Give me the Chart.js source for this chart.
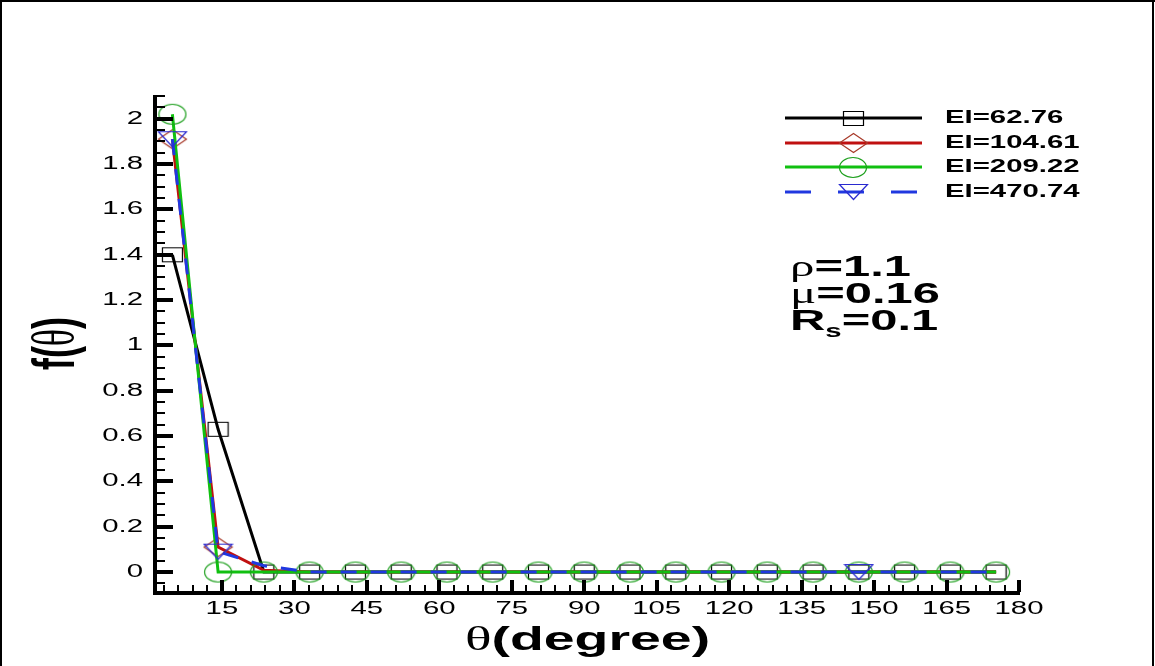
<!DOCTYPE html>
<html>
<head>
<meta charset="utf-8">
<script src="https://cdn.jsdelivr.net/npm/chart.js@4.4.1/dist/chart.umd.min.js"></script>
<style>
  html, body { margin: 0; padding: 0; background: #fff; }
</style>
</head>
<body>
<canvas id="thetaChart" width="1155" height="666"></canvas>
<script>
// angle of each sample, degrees
const theta = [4.74, 14.21, 23.68, 33.16, 42.63, 52.11, 61.58, 71.05, 80.53, 90.0,
  99.47, 108.95, 118.42, 127.89, 137.37, 146.84, 156.32, 165.79, 175.26];

const seriesLabels = ['EI=62.76', 'EI=104.61', 'EI=209.22', 'EI=470.74'];

const fEI62 = [1.40, 0.63, 0.0, 0, 0, 0, 0, 0, 0, 0, 0, 0, 0, 0, 0, 0, 0, 0, 0];
const fEI104 = [1.91, 0.11, 0.008, 0, 0, 0, 0, 0, 0, 0, 0, 0, 0, 0, 0, 0, 0, 0, 0];
const fEI209 = [2.02, 0.0, 0, 0, 0, 0, 0, 0, 0, 0, 0, 0, 0, 0, 0, 0, 0, 0, 0];
const fEI470 = [1.91, 0.09, 0.028, 0, 0, 0, 0, 0, 0, 0, 0, 0, 0, 0, 0, 0, 0, 0, 0];

const xTickValues = [15, 30, 45, 60, 75, 90, 105, 120, 135, 150, 165, 180];
const yTickValues = [0, 0.2, 0.4, 0.6, 0.8, 1, 1.2, 1.4, 1.6, 1.8, 2];

// which samples carry a symbol (the others are hidden in the original)
const diamondAt = [0, 1];
const triangleAt = [0, 1, 15];

const SX = 1.63; // the original figure is stretched horizontally

function makeMarker(kind, w, h, color) {
  const c = document.createElement('canvas');
  c.width = w + 3;
  c.height = h + 3;
  const g = c.getContext('2d');
  const cx = c.width / 2, cy = c.height / 2;
  g.strokeStyle = color;
  g.lineWidth = 1.2;
  g.beginPath();
  if (kind === 'rect') {
    g.rect(cx - w / 2, cy - h / 2, w, h);
  } else if (kind === 'diamond') {
    g.moveTo(cx - w / 2, cy); g.lineTo(cx, cy - h / 2);
    g.lineTo(cx + w / 2, cy); g.lineTo(cx, cy + h / 2); g.closePath();
  } else if (kind === 'ellipse') {
    g.ellipse(cx, cy, w / 2, h / 2, 0, 0, Math.PI * 2);
  } else {
    g.moveTo(cx - w / 2, cy - h / 2); g.lineTo(cx + w / 2, cy - h / 2);
    g.lineTo(cx, cy + h / 2); g.closePath();
  }
  g.stroke();
  return c;
}

const markers = [
  makeMarker('rect', 20, 14, '#000000'),
  makeMarker('diamond', 28, 19, '#a83a2a'),
  makeMarker('ellipse', 27, 20, '#1fa01f'),
  makeMarker('triangle', 28, 15, '#2a2ad0')
];
const lineColors = ['#000000', '#c01010', '#10c010', '#2038e0'];

const toPoints = (vals) => vals.map((v, i) => ({ x: theta[i], y: v }));

function drawStretched(ctx, text, x, y, font, align) {
  ctx.save();
  ctx.translate(x, y);
  ctx.scale(SX, 1);
  ctx.font = font;
  ctx.textAlign = align;
  ctx.textBaseline = 'middle';
  ctx.fillText(text, 0, 0);
  ctx.restore();
}

const decorations = {
  id: 'decorations',
  afterDraw(chart) {
    const ctx = chart.ctx;
    const xs = chart.scales.x, ys = chart.scales.y;
    const area = chart.chartArea;
    ctx.save();
    ctx.setLineDash([]);
    ctx.fillStyle = '#000';

    // frame round the figure
    ctx.fillRect(0, 0, 1155, 2);
    ctx.fillRect(0, 0, 2, 666);
    ctx.fillRect(1152, 0, 2, 666);

    // axis lines
    ctx.fillRect(area.left - 3, area.top, 4, area.bottom - area.top + 3);
    ctx.fillRect(area.left - 3, area.bottom - 1, area.right - area.left + 4, 4);

    // inward ticks
    for (let v = 3; v <= 180; v += 3) {
      const px = Math.round(xs.getPixelForValue(v));
      if (v % 15 === 0) ctx.fillRect(px - 2, area.bottom - 12, 4, 12);
      else ctx.fillRect(px - 1, area.bottom - 7, 2, 7);
    }
    for (let k = -1; k <= 42; k++) {
      const py = Math.round(ys.getPixelForValue(k * 0.05));
      if (py < area.top - 1) continue;
      if (k % 4 === 0) ctx.fillRect(area.left, py - 2, 17, 4);
      else ctx.fillRect(area.left, py - 1, 9, 2);
    }

    // tick labels
    xTickValues.forEach(v => {
      drawStretched(ctx, String(v), xs.getPixelForValue(v), 609, '18px "Liberation Sans"', 'center');
    });
    yTickValues.forEach(v => {
      drawStretched(ctx, String(v), 143, ys.getPixelForValue(v), '18px "Liberation Sans"', 'right');
    });

    // x title
    ctx.save();
    ctx.translate((area.left + area.right) / 2, 641);
    ctx.scale(SX, 1);
    ctx.textBaseline = 'middle';
    ctx.font = '34px "Liberation Serif"';
    const wTh = ctx.measureText('\u03b8').width;
    ctx.font = 'bold 34px "Liberation Sans"';
    const wRest = ctx.measureText('(degree)').width;
    const start = -(wTh + wRest) / 2;
    ctx.textAlign = 'left';
    ctx.font = '34px "Liberation Serif"';
    ctx.fillText('\u03b8', start, 0);
    ctx.font = 'bold 34px "Liberation Sans"';
    ctx.fillText('(degree)', start + wTh, 0);
    ctx.restore();

    // y title, rotated
    ctx.save();
    ctx.translate(58, (area.top + area.bottom) / 2);
    ctx.rotate(-Math.PI / 2);
    ctx.scale(1, SX);
    ctx.textBaseline = 'middle';
    ctx.textAlign = 'left';
    const parts = [['f(', 'bold 36px "Liberation Sans"'], ['\u03b8', '36px "Liberation Serif"'], [')', 'bold 36px "Liberation Sans"']];
    let total = 0;
    parts.forEach(p => { ctx.font = p[1]; total += ctx.measureText(p[0]).width; });
    let pos = -total / 2;
    parts.forEach(p => { ctx.font = p[1]; ctx.fillText(p[0], pos, 0); pos += ctx.measureText(p[0]).width; });
    ctx.restore();

    // legend
    const legendY = [118, 143, 167, 192];
    seriesLabels.forEach((label, i) => {
      const y = legendY[i];
      ctx.strokeStyle = lineColors[i];
      ctx.lineWidth = 3;
      ctx.setLineDash(i === 3 ? [26, 27] : []);
      ctx.beginPath();
      ctx.moveTo(785, y);
      ctx.lineTo(922, y);
      ctx.stroke();
      ctx.setLineDash([]);
      const m = markers[i];
      ctx.drawImage(m, Math.round(853 - m.width / 2), Math.round(y - m.height / 2));
      ctx.fillStyle = '#000';
      drawStretched(ctx, label, 945, y, 'bold 18px "Liberation Sans"', 'left');
    });

    // parameters
    const lines = [['\u03c1', '=1.1', 268], ['\u03bc', '=0.16', 295]];
    lines.forEach(([sym, rest, y]) => {
      ctx.save();
      ctx.translate(790, y);
      ctx.scale(SX, 1);
      ctx.textBaseline = 'middle';
      ctx.textAlign = 'left';
      ctx.font = '30px "Liberation Serif"';
      ctx.fillText(sym, 0, 0);
      const w = ctx.measureText(sym).width;
      ctx.font = 'bold 30px "Liberation Sans"';
      ctx.fillText(rest, w, 0);
      ctx.restore();
    });
    ctx.save();
    ctx.translate(790, 322);
    ctx.scale(SX, 1);
    ctx.textBaseline = 'middle';
    ctx.textAlign = 'left';
    ctx.font = 'bold 30px "Liberation Sans"';
    ctx.fillText('R', 0, 0);
    let wR = ctx.measureText('R').width;
    ctx.font = 'bold 18px "Liberation Sans"';
    ctx.fillText('s', wR, 10);
    wR += ctx.measureText('s').width;
    ctx.font = 'bold 30px "Liberation Sans"';
    ctx.fillText('=0.1', wR, 0);
    ctx.restore();

    ctx.restore();
  }
};

const seriesValues = [fEI62, fEI104, fEI209, fEI470];
const shownAt = [null, diamondAt, null, triangleAt];

new Chart(document.getElementById('thetaChart'), {
  type: 'line',
  data: {
    datasets: seriesValues.map((vals, i) => ({
      label: seriesLabels[i],
      data: toPoints(vals),
      borderColor: lineColors[i],
      borderWidth: 3,
      borderDash: i === 3 ? [16, 14] : [],
      pointStyle: markers[i],
      pointRadius: (ctx) => (shownAt[i] === null || shownAt[i].includes(ctx.dataIndex)) ? 12 : 0,
      tension: 0,
      fill: false,
      order: 3 - i,
      clip: false
    }))
  },
  options: {
    responsive: false,
    animation: false,
    devicePixelRatio: 1,
    events: [],
    layout: { padding: { left: 0, top: 95, right: 136, bottom: 0 } },
    plugins: {
      legend: { display: false },
      tooltip: { enabled: false }
    },
    scales: {
      x: {
        type: 'linear',
        min: 1.35,
        max: 180,
        afterBuildTicks: (scale) => { scale.ticks = xTickValues.map(v => ({ value: v })); },
        afterFit: (scale) => { scale.height = 74; },
        ticks: { display: false },
        grid: { display: false, drawTicks: false },
        border: { display: false }
      },
      y: {
        type: 'linear',
        min: -0.088,
        max: 2.105,
        afterBuildTicks: (scale) => { scale.ticks = yTickValues.map(v => ({ value: v })); },
        afterFit: (scale) => { scale.width = 156; },
        ticks: { display: false },
        grid: { display: false, drawTicks: false },
        border: { display: false }
      }
    }
  },
  plugins: [decorations]
});
</script>
</body>
</html>
